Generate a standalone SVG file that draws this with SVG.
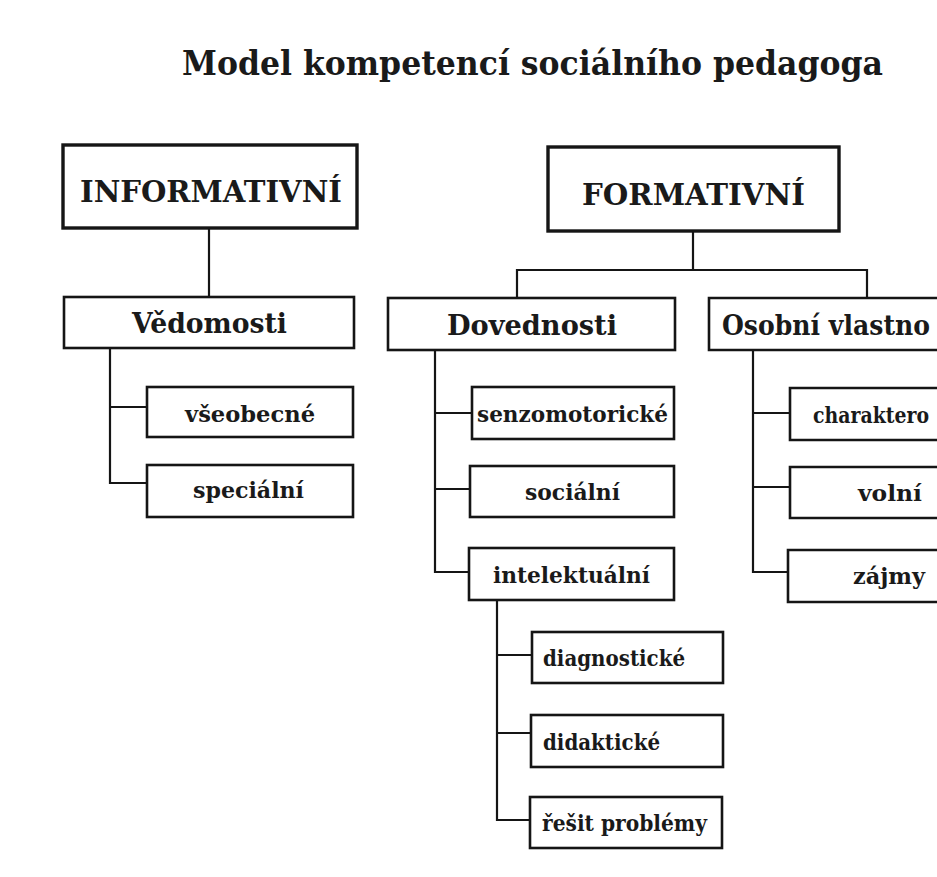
<svg xmlns="http://www.w3.org/2000/svg" width="937" height="877" viewBox="0 0 937 877">
<style>
.bg{fill:#ffffff}
.box{fill:#ffffff;stroke:#151515;stroke-width:2.6}
.open{fill:#ffffff;stroke:#151515;stroke-width:2.6}
.big{fill:#ffffff;stroke:#151515;stroke-width:3.4}
.con{fill:none;stroke:#151515;stroke-width:2.2}
text{font-family:"DejaVu Serif","Liberation Serif",serif;font-weight:bold;fill:#1a1a1a}
.t1{font-size:30px}
.t2{font-size:27px}
.t3{font-size:22px}
.title{font-size:34px}
</style>
<rect class="bg" x="0" y="0" width="937" height="877"/>
<text class="title" x="182" y="75" textLength="701" lengthAdjust="spacingAndGlyphs">Model kompetencí sociálního pedagoga</text>
<g id="connectors">
<path class="con" d="M209,228 V297"/>
<path class="con" d="M110,348 V483 H147 M110,407 H147"/>
<path class="con" d="M693,231 V270 M517,298 V270 H867 V298"/>
<path class="con" d="M435,350 V572 H469 M435,413 H472 M435,489 H470"/>
<path class="con" d="M497,600 V820 H530 M497,655 H532 M497,733 H531"/>
<path class="con" d="M753,350 V572 H788 M753,413 H790 M753,487 H790"/>
</g>
<g id="informativni">
<rect class="big" x="63" y="145" width="294" height="83"/>
<text class="t1" x="211" y="202" text-anchor="middle" textLength="262" lengthAdjust="spacingAndGlyphs">INFORMATIVNÍ</text>
</g>
<g id="formativni">
<rect class="big" x="548" y="147" width="291" height="84"/>
<text class="t1" x="693.5" y="205" text-anchor="middle" textLength="223" lengthAdjust="spacingAndGlyphs">FORMATIVNÍ</text>
</g>
<g id="vedomosti">
<rect class="box" x="64" y="297" width="290" height="51"/>
<text class="t2" x="209.5" y="333" text-anchor="middle" textLength="155" lengthAdjust="spacingAndGlyphs">Vědomosti</text>
</g>
<g id="dovednosti">
<rect class="box" x="388" y="298" width="287" height="52"/>
<text class="t2" x="532" y="335" text-anchor="middle" textLength="170" lengthAdjust="spacingAndGlyphs">Dovednosti</text>
</g>
<g id="osobni">
<path class="open" d="M937,298 H709 V350 H937"/>
<text class="t2" x="722" y="335" textLength="208" lengthAdjust="spacingAndGlyphs">Osobní vlastno</text>
</g>
<g id="vseobecne">
<rect class="box" x="147" y="387" width="206" height="50"/>
<text class="t3" x="250" y="422" text-anchor="middle" textLength="130" lengthAdjust="spacingAndGlyphs">všeobecné</text>
</g>
<g id="specialni">
<rect class="box" x="147" y="465" width="206" height="52"/>
<text class="t3" x="248.5" y="498" text-anchor="middle" textLength="111" lengthAdjust="spacingAndGlyphs">speciální</text>
</g>
<g id="senzomotoricke">
<rect class="box" x="472" y="387" width="202" height="52"/>
<text class="t3" x="572.5" y="422" text-anchor="middle" textLength="191" lengthAdjust="spacingAndGlyphs">senzomotorické</text>
</g>
<g id="socialni">
<rect class="box" x="470" y="466" width="204" height="51"/>
<text class="t3" x="572.5" y="500" text-anchor="middle" textLength="95" lengthAdjust="spacingAndGlyphs">sociální</text>
</g>
<g id="intelektualni">
<rect class="box" x="469" y="548" width="205" height="52"/>
<text class="t3" x="571.5" y="583" text-anchor="middle" textLength="157" lengthAdjust="spacingAndGlyphs">intelektuální</text>
</g>
<g id="charaktero">
<path class="open" d="M937,388 H790 V440 H937"/>
<text class="t3" x="813" y="422.5" textLength="116" lengthAdjust="spacingAndGlyphs">charaktero</text>
</g>
<g id="volni">
<path class="open" d="M937,467 H790 V518 H937"/>
<text class="t3" x="890" y="501" text-anchor="middle" textLength="64" lengthAdjust="spacingAndGlyphs">volní</text>
</g>
<g id="zajmy">
<path class="open" d="M937,550 H788 V602 H937"/>
<text class="t3" x="889" y="584" text-anchor="middle" textLength="72" lengthAdjust="spacingAndGlyphs">zájmy</text>
</g>
<g id="diagnosticke">
<rect class="box" x="532" y="632" width="191" height="51"/>
<text class="t3" x="543" y="666" textLength="142" lengthAdjust="spacingAndGlyphs">diagnostické</text>
</g>
<g id="didakticke">
<rect class="box" x="531" y="715" width="192" height="52"/>
<text class="t3" x="543" y="749.5" textLength="117" lengthAdjust="spacingAndGlyphs">didaktické</text>
</g>
<g id="resit">
<rect class="box" x="530" y="797" width="192" height="51"/>
<text class="t3" x="542" y="831" textLength="165" lengthAdjust="spacingAndGlyphs">řešit problémy</text>
</g>
</svg>
